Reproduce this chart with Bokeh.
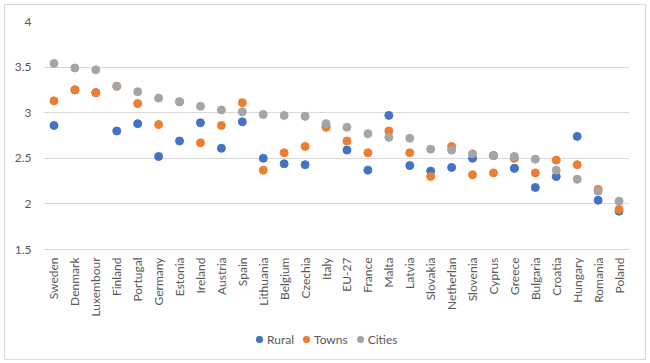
from bokeh.plotting import figure
from bokeh.layouts import column
from bokeh.models import FixedTicker, CustomJSTickFormatter, Legend, LegendItem
from bokeh.embed import file_html
from bokeh.resources import INLINE
import math

categories = ["Sweden", "Denmark", "Luxembour", "Finland", "Portugal", "Germany", "Estonia",
              "Ireland", "Austria", "Spain", "Lithuania", "Belgium", "Czechia", "Italy", "EU-27",
              "France", "Malta", "Latvia", "Slovakia", "Netherlan", "Slovenia", "Cyprus", "Greece",
              "Bulgaria", "Croatia", "Hungary", "Romania", "Poland"]
rural = [2.86, 3.25, 3.22, 2.80, 2.88, 2.52, 2.69, 2.89, 2.61, 2.90, 2.50, 2.44, 2.43, 2.85,
         2.59, 2.37, 2.97, 2.42, 2.36, 2.40, 2.50, 2.53, 2.39, 2.18, 2.30, 2.74, 2.04, 1.92]
towns = [3.13, 3.25, 3.22, 3.29, 3.10, 2.87, 3.12, 2.67, 2.86, 3.11, 2.37, 2.56, 2.63, 2.84,
         2.69, 2.56, 2.80, 2.56, 2.30, 2.63, 2.32, 2.34, 2.50, 2.34, 2.48, 2.43, 2.16, 1.94]
cities = [3.54, 3.49, 3.47, 3.29, 3.23, 3.16, 3.12, 3.07, 3.03, 3.01, 2.98, 2.97, 2.96, 2.88,
          2.84, 2.77, 2.73, 2.72, 2.60, 2.59, 2.55, 2.53, 2.52, 2.49, 2.37, 2.27, 2.14, 2.03]
y_ticks = [1.5, 2, 2.5, 3, 3.5, 4]
series_names = ["Rural", "Towns", "Cities"]
series_colors = ["#4472C4", "#ED7D31", "#A5A5A5"]

FONT = "Lato"
TXT = "#595959"

p = figure(x_range=categories, y_range=(1.5, 4), output_backend="svg", toolbar_location=None,
           frame_width=586, frame_height=228,
           min_border_left=38, min_border_right=16, min_border_top=16, min_border_bottom=70)
p.outline_line_color = None
p.background_fill_color = "white"
p.border_fill_color = "white"

for name, vals, col in zip(series_names, [rural, towns, cities], series_colors):
    p.scatter(x=categories, y=vals, size=8, color=col, line_color=col)

p.xgrid.grid_line_color = None
p.ygrid.grid_line_color = "#D9D9D9"
p.ygrid.grid_line_width = 1

p.yaxis.ticker = FixedTicker(ticks=y_ticks)
p.yaxis.formatter = CustomJSTickFormatter(code="return tick.toString();")
p.yaxis.axis_line_color = None
p.yaxis.major_tick_line_color = None
p.yaxis.minor_tick_line_color = None
p.yaxis.major_tick_out = 0
p.yaxis.major_tick_in = 0
p.yaxis.minor_tick_out = 0
p.yaxis.major_label_standoff = 12
p.yaxis.major_label_text_font = FONT
p.yaxis.major_label_text_font_size = "12px"
p.yaxis.major_label_text_color = TXT

p.xaxis.axis_line_color = "#D9D9D9"
p.xaxis.major_tick_line_color = None
p.xaxis.minor_tick_line_color = None
p.xaxis.major_tick_out = 0
p.xaxis.major_tick_in = 0
p.xaxis.minor_tick_out = 0
p.xaxis.major_label_orientation = math.pi / 2
p.xaxis.major_label_standoff = 8
p.xaxis.major_label_text_font = FONT
p.xaxis.major_label_text_font_size = "12px"
p.xaxis.major_label_text_color = TXT

# legend strip: a small axis-less figure holding off-range legend proxies
lg = figure(width=640, height=40, x_range=(0, 1), y_range=(0, 1), output_backend="svg",
            toolbar_location=None, min_border=0, outline_line_color=None,
            x_axis_location=None, y_axis_location=None)
lg.grid.visible = False
items = []
for name, col in zip(series_names, series_colors):
    r = lg.scatter(x=[-5], y=[-5], size=8, color=col, line_color=col)
    items.append(LegendItem(label=name, renderers=[r]))
legend = Legend(items=items, orientation="horizontal", location=(208, 12),
                glyph_width=16, glyph_height=16, label_standoff=0, spacing=4,
                padding=0, margin=0, border_line_color=None, background_fill_alpha=0,
                label_text_font=FONT, label_text_font_size="12px", label_text_color=TXT)
lg.add_layout(legend, "center")

layout = column(p, lg, spacing=0, styles={"border": "1px solid #D9D9D9", "margin": "4px"})

open("out.html", "w").write(file_html(layout, INLINE))
